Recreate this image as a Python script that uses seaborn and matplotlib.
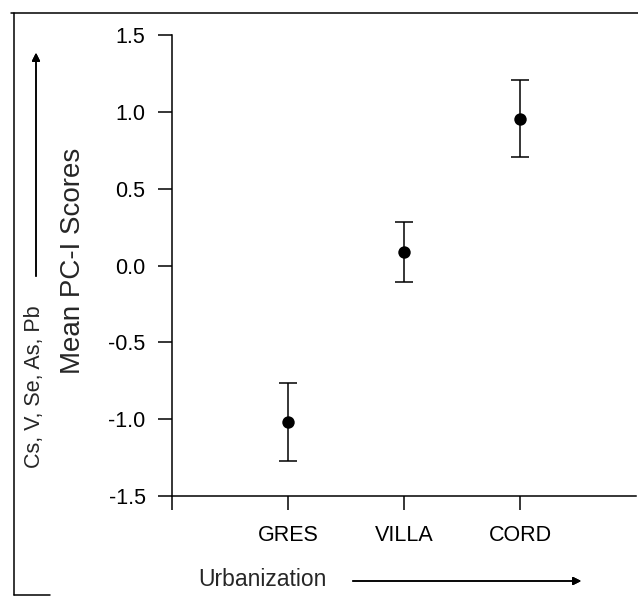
import numpy as np
import pandas as pd
import matplotlib
matplotlib.use("Agg")
import matplotlib.pyplot as plt
from matplotlib.lines import Line2D
import seaborn as sns

# ---- data ----
sites = ["GRES", "VILLA", "CORD"]
means = [-1.02, 0.085, 0.955]
upper = [-0.765, 0.28, 1.21]
lower = [-1.27, -0.11, 0.705]
yticks = [-1.5, -1.0, -0.5, 0.0, 0.5, 1.0, 1.5]

sns.set_style("ticks")
plt.rcParams["font.family"] = ["Liberation Sans", "DejaVu Sans"]

df = pd.DataFrame({"site": sites, "mean": means, "upper": upper, "lower": lower})
df["pos"] = np.arange(len(df)) + 1

W, H = 638, 599
fig = plt.figure(figsize=(W / 100, H / 100), dpi=100)
ax = fig.add_axes([172 / W, (H - 496) / H, (636 - 172) / W, (496 - 35) / H])

ax.errorbar(df["pos"], df["mean"],
            yerr=[df["mean"] - df["lower"], df["upper"] - df["mean"]],
            fmt="none", ecolor="black", elinewidth=1.1, capsize=6.5, capthick=1.1, zorder=2)
sns.scatterplot(data=df, x="pos", y="mean", ax=ax, color="black", s=80,
                edgecolor="black", linewidth=0, zorder=3, legend=False)

ax.set_xlim(0, 4)
ax.set_ylim(-1.5, 1.5)
ax.set_yticks(yticks)
ax.set_yticklabels([f"{v:.1f}" for v in yticks])
ax.set_xticks([0] + list(df["pos"]))
ax.set_xticklabels([""] + sites)
ax.tick_params(axis="both", direction="out", length=10, width=1.1, colors="black",
               labelsize=15.5)
ax.tick_params(axis="y", pad=9)
ax.tick_params(axis="x", pad=11)
for s in ["top", "right"]:
    ax.spines[s].set_visible(False)
for s in ["left", "bottom"]:
    ax.spines[s].set_linewidth(1.1)
    ax.spines[s].set_color("black")
ax.set_xlabel("")
ax.set_ylabel("")

# y-axis label
fig.text(73 / W, 1 - 261 / H, "Mean PC-I Scores", rotation=90, ha="center", va="center",
         fontsize=20)
# secondary vertical text and arrow
fig.text(35 / W, 1 - 387 / H, "Cs, V, Se, As, Pb", rotation=90, ha="center", va="center",
         fontsize=15.5)
fig.add_artist(plt.annotate("", xy=(36 / W, 1 - 50 / H), xytext=(36 / W, 1 - 279 / H),
                            xycoords="figure fraction", textcoords="figure fraction",
                            arrowprops=dict(arrowstyle="-|>", color="black", lw=1.1,
                                            mutation_scale=12)))
# x label and arrow
fig.text(262 / W, 1 - 579 / H, "Urbanization", ha="center", va="center", fontsize=16.5)
fig.add_artist(plt.annotate("", xy=(584 / W, 1 - 581 / H), xytext=(350 / W, 1 - 581 / H),
                            xycoords="figure fraction", textcoords="figure fraction",
                            arrowprops=dict(arrowstyle="-|>", color="black", lw=1.1,
                                            mutation_scale=12)))

# outer frame fragments
fig.add_artist(Line2D([11 / W, 1.0], [1 - 13 / H, 1 - 13 / H], color="black", lw=1.1))
fig.add_artist(Line2D([14 / W, 14 / W], [1 - 13 / H, 1 - 595 / H], color="black", lw=1.1))
fig.add_artist(Line2D([14 / W, 50 / W], [1 - 595 / H, 1 - 595 / H], color="black", lw=1.1))

fig.savefig("out.png", dpi=100)
